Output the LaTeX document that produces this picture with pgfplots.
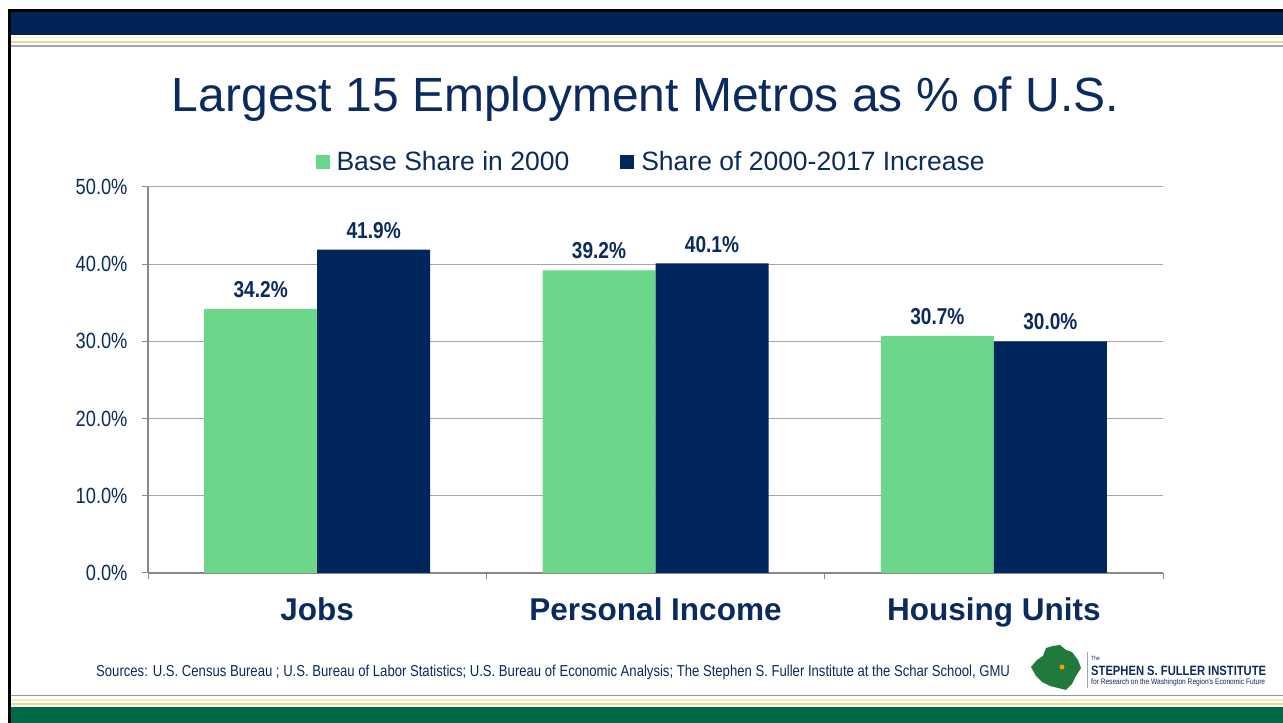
\documentclass[border=0pt]{standalone}
\usepackage{pgfplots}
\pgfplotsset{compat=1.18}
\usepackage{graphicx}
\usepackage{fontspec}
\setmainfont{Liberation Sans}
\newfontfamily\narrow[FakeStretch=0.83]{Liberation Sans}
\pgfkeys{/pgf/number format/assume math mode=true}

\definecolor{navy}{HTML}{0B2A5E}
\definecolor{topnavy}{HTML}{002456}
\definecolor{barnavy}{HTML}{00265E}
\definecolor{bargreen}{HTML}{6CD68B}
\definecolor{axisgray}{HTML}{888888}
\definecolor{gridgray}{HTML}{A6A6A6}
\definecolor{goldA}{HTML}{F7EBB5}
\definecolor{goldB}{HTML}{EDD98E}
\definecolor{lineblue}{HTML}{9AA8B5}
\definecolor{botgreen}{HTML}{006A47}
\definecolor{mapgreen}{HTML}{217A3C}

\begin{document}
\begin{tikzpicture}
\useasboundingbox (0bp,0bp) rectangle (1283bp,723bp);
\fill[white] (0bp,0bp) rectangle (1283bp,723bp);

% slide frame and bands, in pixel coordinates of the slide (y down)
\begin{scope}[x=1bp, y=-1bp, shift={(0bp,723bp)}]
  \fill[black] (8,9) rectangle (1283,12);
  \fill[black] (8,9) rectangle (11,723);
  \fill[topnavy] (11,12) rectangle (1283,35);
  \fill[goldA] (11,37) rectangle (1283,38.5);
  \fill[goldB] (11,41) rectangle (1283,43);
  \fill[lineblue] (11,45.5) rectangle (1283,47);
  \fill[lineblue!80!teal] (11,695.5) rectangle (1283,696.5);
  \fill[goldA] (11,699) rectangle (1283,701);
  \fill[goldB] (11,703) rectangle (1283,705);
  \fill[botgreen] (11,707) rectangle (1283,723);

  \node[anchor=base, inner sep=0pt, text=navy, font=\fontsize{48bp}{56bp}\selectfont]
    at (645.5,112) {Largest 15 Employment Metros as \% of U.S.};

  \node[anchor=base west, inner sep=0pt, text=navy, font=\narrow\fontsize{15.8bp}{18bp}\selectfont]
    at (96,677) {Sources: U.S. Census Bureau ; U.S. Bureau of Labor Statistics; U.S. Bureau of Economic Analysis; The Stephen S. Fuller Institute at the Schar School, GMU};

  % logo
  \fill[mapgreen] (1031,667) -- (1037,660) -- (1043,656) -- (1046,648) -- (1053,646)
    -- (1060,645) -- (1066,650) -- (1072,652) -- (1078,660) -- (1081,668) -- (1076,676)
    -- (1072,684) -- (1066,690) -- (1058,688) -- (1050,686) -- (1042,682) -- (1036,676) -- cycle;
  \fill[orange!80!yellow] (1062,667) circle (2.5bp);
  \draw[gray!70, line width=1bp] (1087,652) -- (1087,688);
  \node[anchor=base west, inner sep=0pt, text=navy, font=\narrow\fontsize{6bp}{7bp}\selectfont]
    at (1091,661) {The};
  \node[anchor=base west, inner sep=0pt, text=navy, font=\narrow\bfseries\fontsize{13.5bp}{16bp}\selectfont]
    at (1091,676) {STEPHEN S. FULLER INSTITUTE};
  \node[anchor=base west, inner sep=0pt, text=navy]
    at (1091,685) {\resizebox{174bp}{!}{\narrow for Research on the Washington Region's Economic Future}};
\end{scope}

\begin{axis}[
  at={(148bp,150bp)}, anchor=origin,
  scale only axis, width=1015bp, height=386bp,
  xmin=0, xmax=3, ymin=0, ymax=50,
  ybar=0pt, bar width=113bp,
  axis x line*=bottom, axis y line*=left,
  axis line style={draw=axisgray, line width=1.3bp},
  tick align=outside, major tick length=6bp,
  every tick/.style={draw=axisgray, line width=1bp},
  ytick={0,10,...,50},
  yticklabel={\pgfmathprintnumber[fixed,fixed zerofill,precision=1]{\tick}\%},
  yticklabel style={font=\narrow\fontsize{22bp}{26bp}\selectfont, text=navy, xshift=-11bp},
  ymajorgrids, major grid style={draw=gridgray, line width=1bp},
  xtick={0,1,2,3}, xticklabels={},
  extra x ticks={0.5,1.5,2.5},
  extra x tick labels={Jobs,Personal Income,Housing Units},
  extra x tick style={major tick length=0pt,
    xticklabel style={font=\bfseries\fontsize{31.5bp}{36bp}\selectfont, text=navy, yshift=-21bp}},
  nodes near coords={\pgfmathprintnumber[fixed,fixed zerofill,precision=1]{\pgfplotspointmeta}\%},
  nodes near coords style={font=\narrow\bfseries\fontsize{23bp}{27bp}\selectfont,
    text=navy, anchor=south, inner sep=0pt, yshift=11bp},
  legend columns=2,
  legend style={at={(0.4956,1.066)}, anchor=center, draw=none, fill=none,
    font=\fontsize{26.5bp}{30bp}\selectfont, text=navy,
    /tikz/every even column/.append style={column sep=49bp}},
]
\addplot[fill=bargreen, draw=none,
  legend image code/.code={\fill[bargreen] (0bp,-7bp) rectangle (14bp,7bp); \path (19bp,0bp);}]
  coordinates {(0.5,34.2) (1.5,39.2) (2.5,30.7)};
\addlegendentry{Base Share in 2000}
\addplot[fill=barnavy, draw=none,
  legend image code/.code={\fill[barnavy] (0bp,-7bp) rectangle (14bp,7bp); \path (19bp,0bp);}]
  coordinates {(0.5,41.9) (1.5,40.1) (2.5,30.0)};
\addlegendentry{Share of 2000-2017 Increase}
\end{axis}
\end{tikzpicture}
\end{document}
